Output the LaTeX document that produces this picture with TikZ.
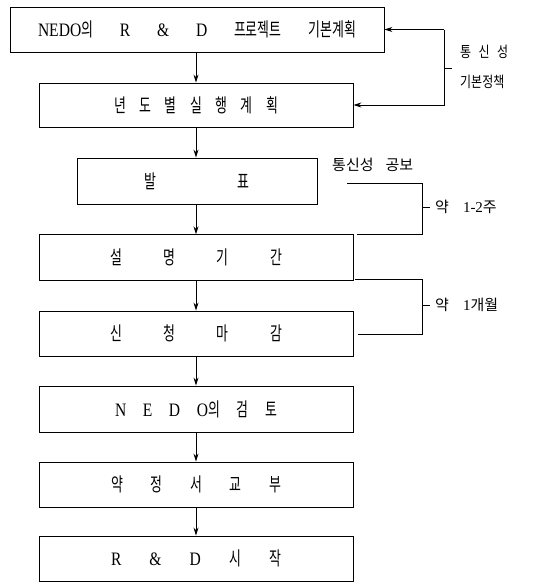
\documentclass[tikz,border=0pt]{standalone}
\usepackage{fontspec}
\setmainfont{Liberation Serif}
\newfontfamily\kr{Noto Sans CJK KR}
\newfontfamily\krbox[FakeStretch=0.68]{Noto Sans CJK KR}
\newfontfamily\krside[FakeStretch=0.8]{Noto Sans CJK KR}
\newfontfamily\latbox[FakeStretch=0.82]{Liberation Serif}
\newfontfamily\latside{Liberation Serif}
\newcommand{\latw}[1]{{\latbox\fontsize{19}{20}\selectfont #1}}
\usetikzlibrary{arrows.meta}
\tikzset{
  box/.style={draw, line width=0.9pt, minimum width=314pt, minimum height=45pt, inner sep=0pt, font=\krbox\fontsize{19}{21}\selectfont},
  flow/.style={line width=0.8pt, -{Stealth[length=8pt,width=5pt]}},
  brk/.style={line width=0.8pt},
  side/.style={font=\kr\fontsize{15}{17}\selectfont, inner sep=0pt, anchor=west},
  sidesmall/.style={font=\krside\fontsize{15}{17}\selectfont, inner sep=0pt, anchor=west}
}
\begin{document}
\begin{tikzpicture}[x=1pt,y=-1pt]
\useasboundingbox (0,0) rectangle (542,582);
\node[box, minimum width=374pt] (b1) at (197,29.5) {\makebox[318pt][s]{\latw{NEDO}의 \latw{R} \latw{\&} \latw{D} 프로젝트 기본계획}};
\node[box, minimum height=44pt] (b2) at (196,105) {\makebox[164pt][s]{년 도 별 실 행 계 획}};
\node[box, minimum width=240pt, minimum height=46pt] (b3) at (197,181) {\makebox[105pt][s]{발 표}};
\node[box, minimum height=45.5pt] (b4) at (196,257.5) {\makebox[172pt][s]{설 명 기 간}};
\node[box] (b5) at (196,333.5) {\makebox[172pt][s]{신 청 마 감}};
\node[box, minimum height=46pt] (b6) at (196,409) {\makebox[162pt][s]{\latw{N} \latw{E} \latw{D} \latw{O}의 검 토}};
\node[box] (b7) at (196,484.5) {\makebox[170pt][s]{약 정 서 교 부}};
\node[box] (b8) at (196,558.5) {\makebox[170pt][s]{\latw{R} \latw{\&} \latw{D} 시 작}};
\foreach \a/\b in {b1/b2,b2/b3,b3/b4,b4/b5,b5/b6,b6/b7,b7/b8}
  \draw[flow] (\a.south -| 196,0) -- (\b.north -| 196,0);
% bracket 1
\coordinate (p1) at (444,29.5);
\coordinate (p2) at (444,105);
\coordinate (t1) at (452,68);
\draw[flow] (p1) -- (b1.east);
\draw[flow] (p1) -- (p2) -- (b2.east);
\draw[brk] (t1 -| p1) -- (t1);
\node[sidesmall] (s1) at (460,52) {\makebox[48pt][s]{통 신 성}};
\node[sidesmall] (s2) at (460,82) {기본정책};
% bracket 2
\node[side] (s3) at (332,165) {통신성\hspace{12pt}공보};
\coordinate (q1) at (347,183);
\coordinate (q2) at (422,183);
\coordinate (q3) at (422,234);
\coordinate (q4) at (357,234);
\coordinate (t2) at (430,207);
\draw[brk] (q1) -- (q2) -- (q3) -- (q4);
\draw[brk] (t2 -| q2) -- (t2);
\node[side] (s4) at (435,207) {약\hspace{14pt}{\latside 1-2}주};
% bracket 3
\coordinate (r1) at (355,279);
\coordinate (r2) at (422,279);
\coordinate (r3) at (422,334);
\coordinate (r4) at (358,334);
\coordinate (t3) at (430,305);
\draw[brk] (r1) -- (r2) -- (r3) -- (r4);
\draw[brk] (t3 -| r2) -- (t3);
\node[side] (s5) at (435,305) {약\hspace{14pt}{\latside 1}개월};
\end{tikzpicture}
\end{document}
